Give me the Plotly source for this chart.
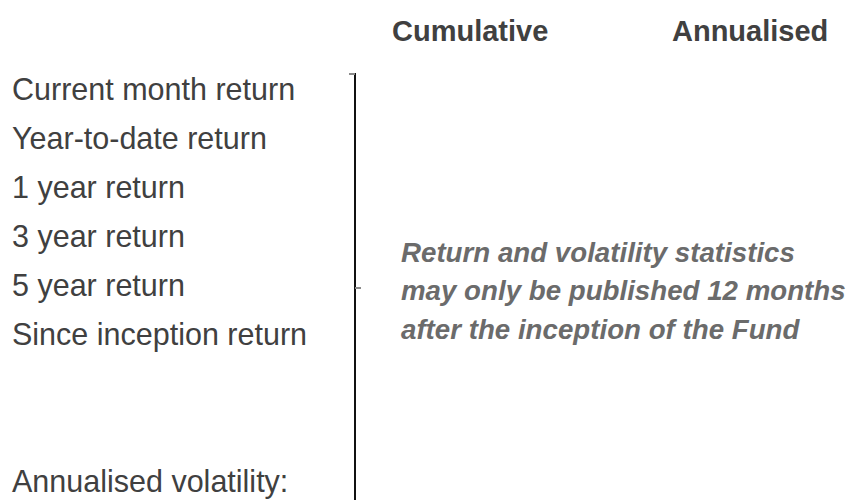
import plotly.graph_objects as go

# ---- data (text table, no numeric values published) ----
row_labels = ["Current month return", "Year-to-date return", "1 year return",
              "3 year return", "5 year return", "Since inception return",
              "Annualised volatility:"]
row_index = [0, 1, 2, 3, 4, 5, 8]
column_headers = ["Cumulative", "Annualised"]
note_lines = ["Return and volatility statistics",
              "may only be published 12 months",
              "after the inception of the Fund"]

W, H = 852, 500
ROW0_PX, ROW_STEP = 92, 49  # pixel centre of first row, row spacing

def row_of(px):
    return (px - ROW0_PX) / ROW_STEP

FONT = "Liberation Sans, Arial, sans-serif"
LABEL_COLOR = "#404040"
NOTE_COLOR = "#6b6b6b"

fig = go.Figure()

# row labels through the axes
fig.add_trace(go.Scatter(
    x=[12] * len(row_labels), y=row_index, mode="text",
    text=row_labels, textposition="middle right",
    textfont=dict(family=FONT, size=30.5, color=LABEL_COLOR),
    hoverinfo="skip", showlegend=False,
))

annotations = []
header_x = [470, 750]
for hx, h in zip(header_x, column_headers):
    annotations.append(dict(x=hx, y=row_of(31), xref="x", yref="y", text=f"<b>{h}</b>",
                            showarrow=False, xanchor="center", yanchor="middle",
                            font=dict(family=FONT, size=29, color=LABEL_COLOR)))

note_y = [252, 290, 329]
for ny, line in zip(note_y, note_lines):
    annotations.append(dict(x=399, y=row_of(ny), xref="x", yref="y", text=f"<b><i>{line}</i></b>",
                            showarrow=False, xanchor="left", yanchor="middle",
                            font=dict(family=FONT, size=27.7, color=NOTE_COLOR)))

shapes = [
    dict(type="line", x0=355, x1=355, y0=row_of(73), y1=row_of(500), xref="x", yref="y",
         line=dict(color="#111111", width=2)),
    dict(type="line", x0=349, x1=355, y0=row_of(74), y1=row_of(74), xref="x", yref="y",
         line=dict(color="#8a8a8a", width=2)),
    dict(type="line", x0=355, x1=361, y0=row_of(288), y1=row_of(288), xref="x", yref="y",
         line=dict(color="#8a8a8a", width=2)),
]

fig.update_layout(
    width=W, height=H,
    margin=dict(l=0, r=0, t=0, b=0),
    paper_bgcolor="white", plot_bgcolor="white",
    xaxis=dict(range=[0, W], visible=False, fixedrange=True),
    yaxis=dict(range=[row_of(H), row_of(0)], visible=False, fixedrange=True),
    annotations=annotations, shapes=shapes,
)

fig.write_html("out.html", config={"displayModeBar": False},
               post_script="document.body.style.margin='0';document.body.style.overflow='hidden';")
